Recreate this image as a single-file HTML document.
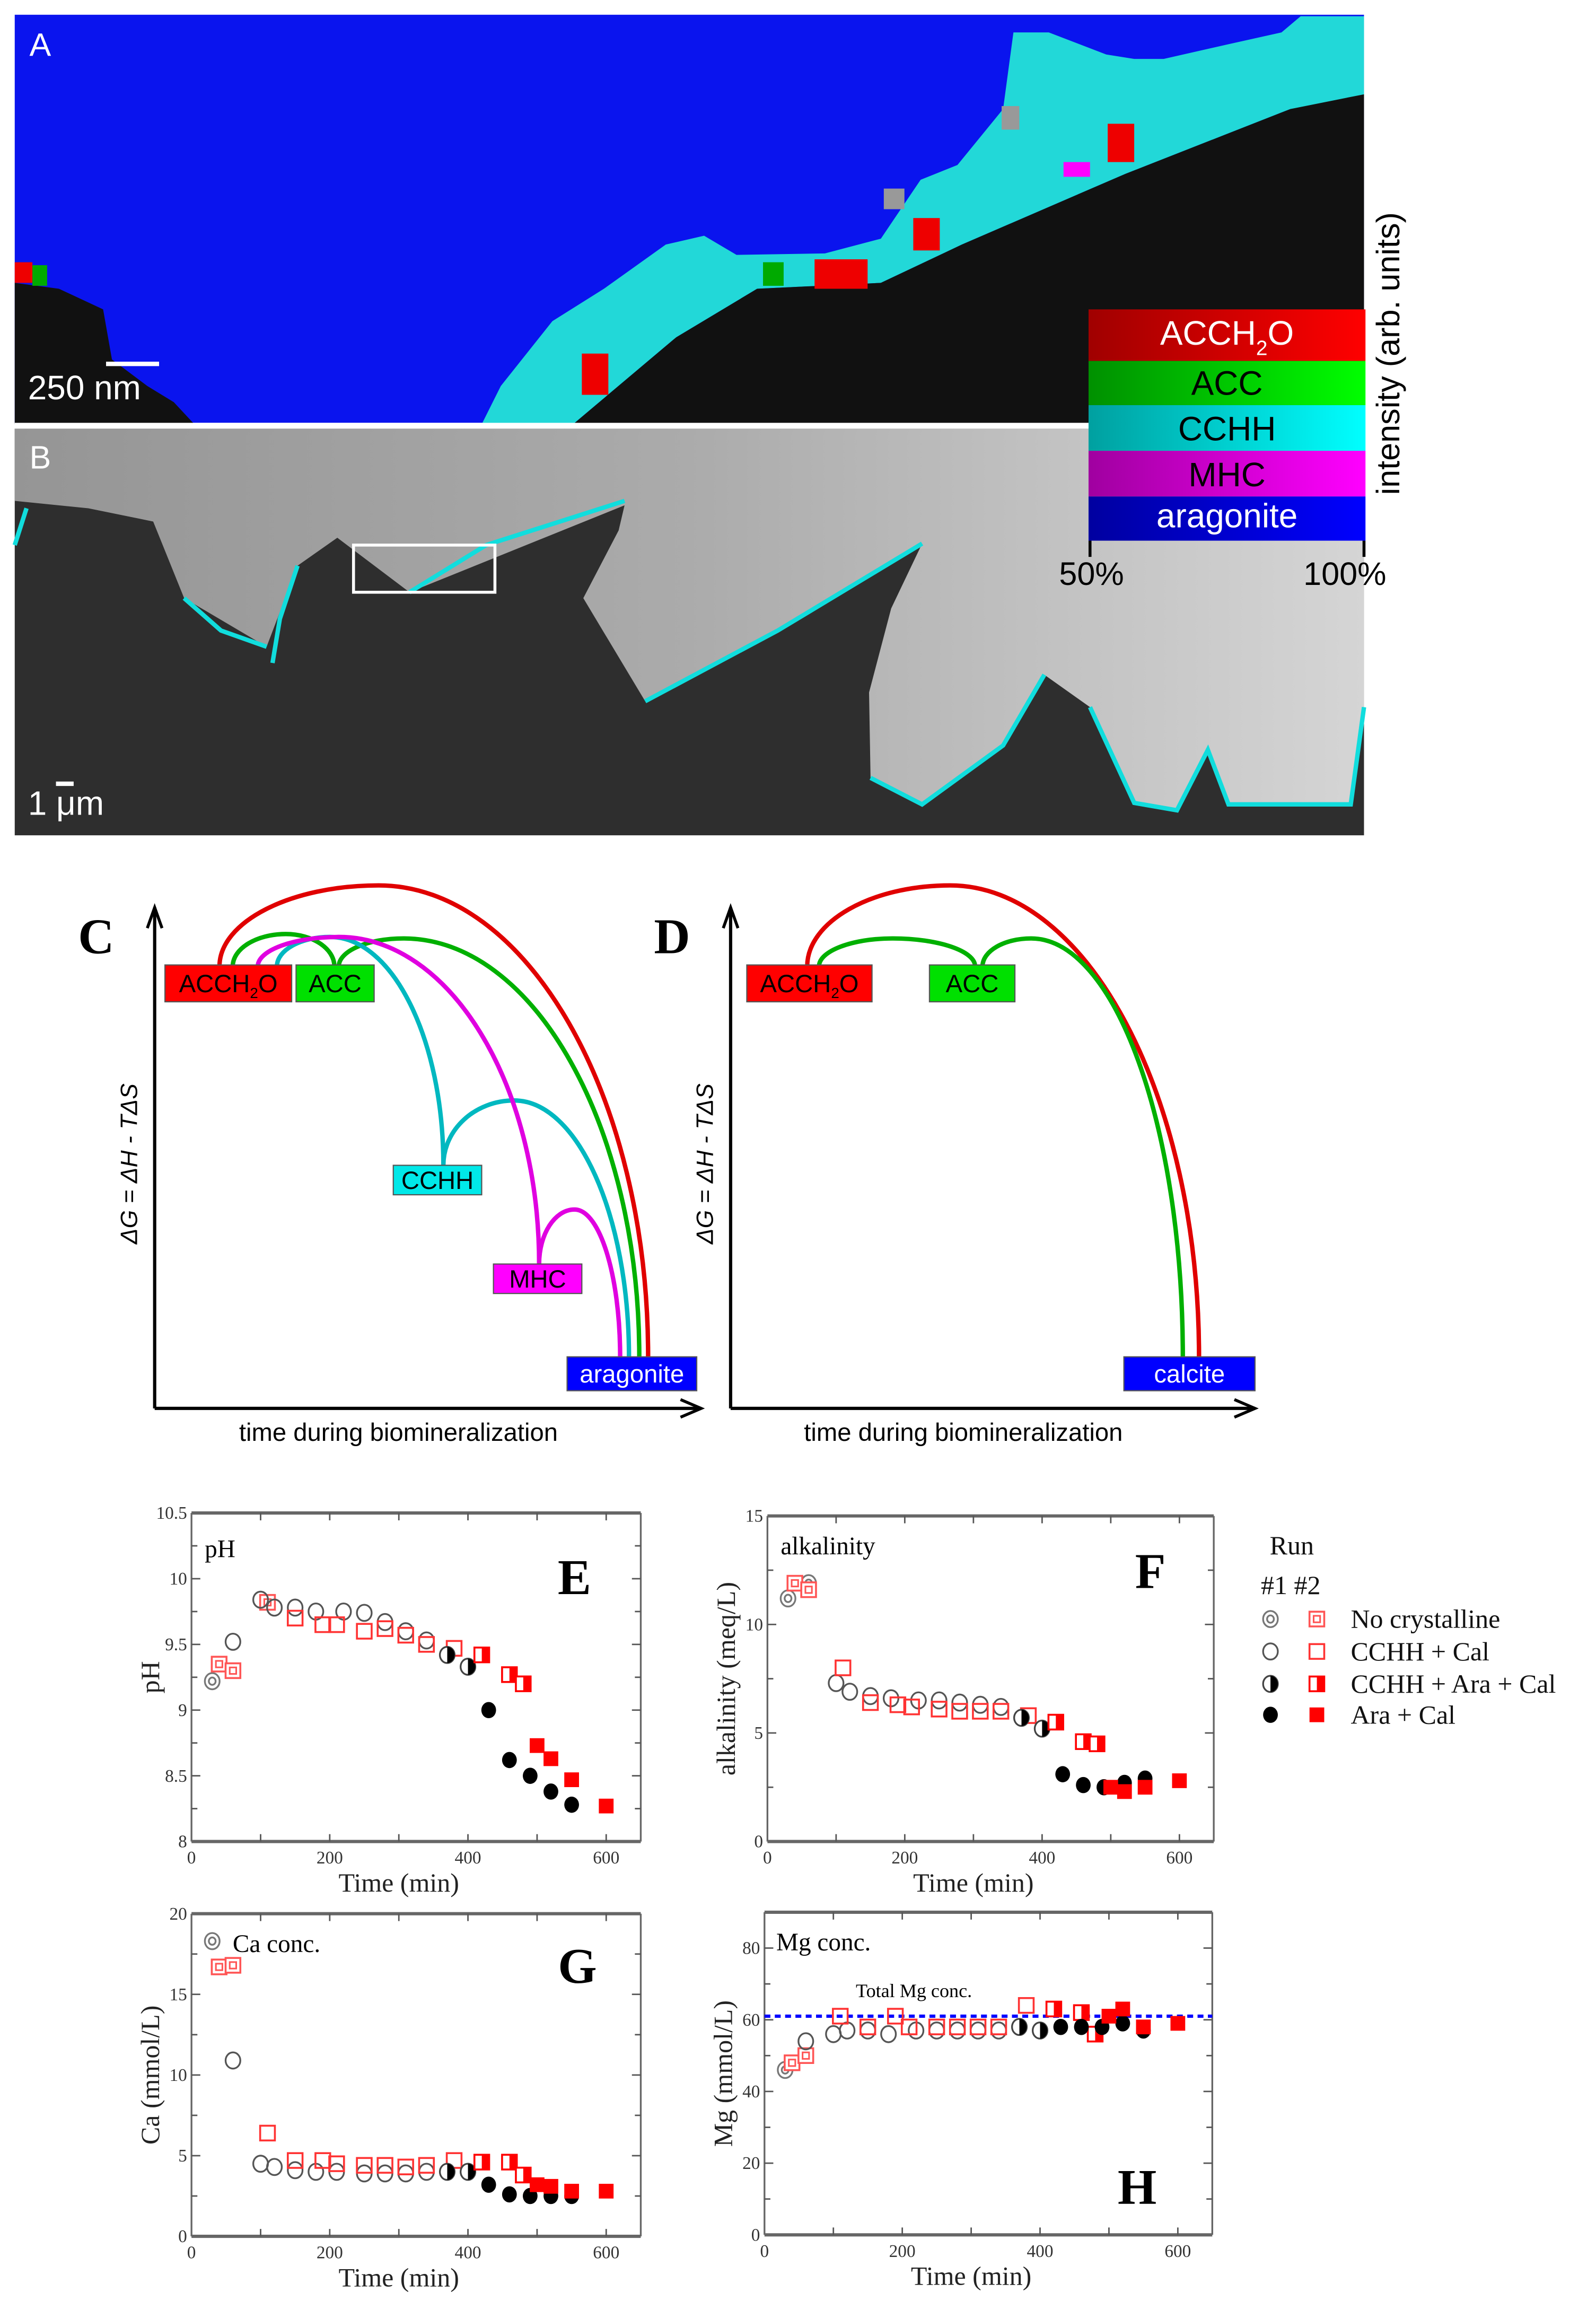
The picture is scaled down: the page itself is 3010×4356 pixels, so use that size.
<!DOCTYPE html>
<html><head><meta charset="utf-8">
<style>
html,body{margin:0;padding:0;background:#fff;}
svg{display:block;}
.sans{font-family:"Liberation Sans",Arial,sans-serif;}
.serif{font-family:"Liberation Serif","Times New Roman",serif;}
</style></head>
<body>
<svg id="fig" width="3010" height="4356" viewBox="0 0 1083.5 1568" xmlns="http://www.w3.org/2000/svg">
<defs>
<linearGradient id="gR" x1="0" x2="1"><stop offset="0" stop-color="#a00000"/><stop offset="1" stop-color="#ff0000"/></linearGradient>
<linearGradient id="gG" x1="0" x2="1"><stop offset="0" stop-color="#009000"/><stop offset="1" stop-color="#00ff00"/></linearGradient>
<linearGradient id="gC" x1="0" x2="1"><stop offset="0" stop-color="#00a0a0"/><stop offset="1" stop-color="#00ffff"/></linearGradient>
<linearGradient id="gM" x1="0" x2="1"><stop offset="0" stop-color="#a000a0"/><stop offset="1" stop-color="#ff00ff"/></linearGradient>
<linearGradient id="gB" x1="0" x2="1"><stop offset="0" stop-color="#0000a0"/><stop offset="1" stop-color="#0000ff"/></linearGradient>
<linearGradient id="gGray" x1="0" x2="1"><stop offset="0" stop-color="#959595"/><stop offset="0.5" stop-color="#ababab"/><stop offset="1" stop-color="#d5d5d5"/></linearGradient>
</defs>

<!-- Panel A -->
<g>
<rect x="10" y="10" width="916" height="277" fill="#0a14ee"/>
<polygon fill="#22d8d8" points="327,288 340,262 375,218 410,196 452,166 478,160 500,173 560,172 598,162 625,122 650,112 681,74 688,22 712,22 751,37 770,40 790,40 834,30 870,22 883,11 926,11 926,66 876,74 764,118 653,166 598,192 514,196 459,229 389,288"/>
<polygon fill="#111" points="389,288 459,229 514,196 598,192 653,166 764,118 876,74 926,64 926,288"/>
<polygon fill="#111" points="10,192 40,196 70,210 76,244 100,262 118,273 132,288 10,288"/>
<rect x="10" y="178" width="12" height="14" fill="#e00"/><rect x="22" y="180" width="10" height="14" fill="#0a0"/>
<rect x="395" y="240" width="18" height="28" fill="#e00"/><rect x="553" y="176" width="36" height="20" fill="#e00"/>
<rect x="620" y="148" width="18" height="22" fill="#e00"/><rect x="752" y="84" width="18" height="26" fill="#e00"/>
<rect x="722" y="110" width="18" height="10" fill="#f0f"/><rect x="518" y="178" width="14" height="16" fill="#0a0"/>
<rect x="600" y="128" width="14" height="14" fill="#999"/><rect x="680" y="72" width="12" height="16" fill="#999"/>
<text x="20" y="38" class="sans" font-size="22" fill="#fff">A</text>
<line x1="72" y1="247" x2="108" y2="247" stroke="#fff" stroke-width="3"/>
<text x="19" y="271" class="sans" font-size="23" fill="#fff">250 nm</text>
</g>
<rect x="10" y="287" width="916" height="4" fill="#fff"/>

<!-- Panel B -->
<g>
<rect x="10" y="291" width="916" height="276" fill="#2e2e2e"/>
<polygon fill="url(#gGray)" points="10,291 926,291 926,480 917,546 834,546 820,509 799,550 770,545 740,480 709,458 681,506 626,546 591,528 590,470 605,413 626,369 528,428 438,476 396,406 420,360 424,343 278,402 229,365 202,384 181,439 125,406 104,354 60,345 10,340"/>
<polyline fill="none" stroke="#1dd" stroke-width="3" points="10,370 18,345"/>
<polyline fill="none" stroke="#1dd" stroke-width="3" points="125,406 150,428 181,439"/>
<polyline fill="none" stroke="#1dd" stroke-width="3" points="202,384 190,420 185,450"/>
<polyline fill="none" stroke="#1dd" stroke-width="3" points="278,402 330,370 424,340"/>
<polyline fill="none" stroke="#1dd" stroke-width="3" points="438,476 528,428 626,369"/>
<polyline fill="none" stroke="#1dd" stroke-width="3" points="591,528 626,546 681,506 709,458"/>
<polyline fill="none" stroke="#1dd" stroke-width="3" points="740,480 770,545 799,550 820,509 834,546 917,546 926,480"/>
<rect x="240" y="370" width="96" height="32" fill="none" stroke="#fff" stroke-width="2"/>
<text x="20" y="318" class="sans" font-size="22" fill="#fff">B</text>
<line x1="38" y1="532" x2="50" y2="532" stroke="#fff" stroke-width="3"/>
<text x="19" y="553" class="sans" font-size="23" fill="#fff">1 μm</text>
</g>

<!-- Colorbar -->
<g>
<rect x="739" y="210" width="188" height="35" fill="url(#gR)"/>
<rect x="739" y="245" width="188" height="30" fill="url(#gG)"/>
<rect x="739" y="275" width="188" height="31" fill="url(#gC)"/>
<rect x="739" y="306" width="188" height="31" fill="url(#gM)"/>
<rect x="739" y="337" width="188" height="30" fill="url(#gB)"/>
<text x="833" y="234" text-anchor="middle" class="sans" font-size="23" fill="#fff">ACCH<tspan font-size="14" dy="7">2</tspan><tspan dy="-7">O</tspan></text>
<text x="833" y="268" text-anchor="middle" class="sans" font-size="23" fill="#000">ACC</text>
<text x="833" y="299" text-anchor="middle" class="sans" font-size="23" fill="#000">CCHH</text>
<text x="833" y="330" text-anchor="middle" class="sans" font-size="23" fill="#000">MHC</text>
<text x="833" y="358" text-anchor="middle" class="sans" font-size="23" fill="#fff">aragonite</text>
<line x1="740" y1="367" x2="740" y2="378" stroke="#000" stroke-width="2"/>
<line x1="926" y1="367" x2="926" y2="378" stroke="#000" stroke-width="2"/>
<text x="741" y="397" text-anchor="middle" class="sans" font-size="22" fill="#000">50%</text>
<text x="913" y="397" text-anchor="middle" class="sans" font-size="22" fill="#000">100%</text>
<text transform="translate(950,240) rotate(-90)" text-anchor="middle" class="sans" font-size="22" fill="#000">intensity (arb. units)</text>
</g>

<g id="cd"></g>
<g id="charts"></g>
</svg>

<script>
// ---------- Panel C/D energy diagram data ----------
const boxesC = [
 {label:"ACCH2O", x:112, y:655, w:86, h:25, fill:"#ff0000", tc:"#000"},
 {label:"ACC", x:201, y:655, w:53, h:25, fill:"#00e000", tc:"#000"},
 {label:"CCHH", x:267, y:791, w:60, h:20, fill:"#00e8e8", tc:"#000"},
 {label:"MHC", x:335, y:858, w:60, h:20, fill:"#ff00ff", tc:"#000"},
 {label:"aragonite", x:385, y:921, w:88, h:23, fill:"#0000ff", tc:"#fff"}
];
const boxesD = [
 {label:"ACCH2O", x:507, y:655, w:85, h:25, fill:"#ff0000", tc:"#000"},
 {label:"ACC", x:631, y:655, w:58, h:25, fill:"#00e000", tc:"#000"},
 {label:"calcite", x:763, y:921, w:89, h:23, fill:"#0000ff", tc:"#fff"}
];
const arcsC = [
 [149,656, 257,601, 440,921, "#e00000"],
 [230,656, 274,637, 434,921, "#00b000"],
 [158,656, 194,634, 227,656, "#00b000"],
 [188,656, 224,636, 301,791, "#00b8c0"],
 [301,791, 349,747, 427,921, "#00b8c0"],
 [175,656, 230,636, 366,858, "#e000e0"],
 [366,858, 390,821, 421,921, "#e000e0"]
];
const arcsD = [
 [548,656, 645,601, 814,921, "#e00000"],
 [556,656, 606,637, 662,656, "#00b000"],
 [667,656, 700,637, 803,921, "#00b000"]
];

// ---------- Chart data (time min, value) ----------
const E_noCryst1=[[30,9.22]];
const E_noCryst2=[[40,9.35],[60,9.3],[110,9.82]];
const E_cchhCal1=[[60,9.52],[100,9.84],[120,9.78],[150,9.78],[180,9.75],[220,9.75],[250,9.74],[280,9.67],[310,9.6],[340,9.53]];
const E_cchhCal2=[[150,9.7],[190,9.65],[210,9.65],[250,9.6],[280,9.62],[310,9.57],[340,9.5],[380,9.47]];
const E_cchhAra1=[[370,9.42],[400,9.33]];
const E_cchhAra2=[[420,9.42],[460,9.27],[480,9.2]];
const E_araCal1=[[430,9.0],[460,8.62],[490,8.5],[520,8.38],[550,8.28]];
const E_araCal2=[[500,8.73],[520,8.63],[550,8.47],[600,8.27]];

const F_noCryst1=[[30,11.2],[60,11.9]];
const F_noCryst2=[[40,11.9],[60,11.6]];
const F_cchhCal1=[[100,7.3],[120,6.9],[150,6.7],[180,6.6],[220,6.5],[250,6.5],[280,6.4],[310,6.3],[340,6.2]];
const F_cchhCal2=[[110,8.0],[150,6.4],[190,6.3],[210,6.2],[250,6.1],[280,6.0],[310,6.0],[340,6.0],[380,5.8]];
const F_cchhAra1=[[370,5.7],[400,5.2]];
const F_cchhAra2=[[420,5.5],[460,4.6],[480,4.5]];
const F_araCal1=[[430,3.1],[460,2.6],[490,2.5],[520,2.7],[550,2.9]];
const F_araCal2=[[500,2.5],[520,2.3],[550,2.5],[600,2.8]];

const G_noCryst1=[[30,18.3]];
const G_noCryst2=[[40,16.7],[60,16.8]];
const G_cchhCal1=[[60,10.9],[100,4.5],[120,4.3],[150,4.1],[180,4.0],[210,4.0],[250,3.9],[280,3.9],[310,3.9],[340,4.0]];
const G_cchhCal2=[[110,6.4],[150,4.7],[190,4.7],[210,4.5],[250,4.4],[280,4.4],[310,4.3],[340,4.4],[380,4.7]];
const G_cchhAra1=[[370,4.0],[400,4.0]];
const G_cchhAra2=[[420,4.6],[460,4.6],[480,3.8]];
const G_araCal1=[[430,3.2],[460,2.6],[490,2.5],[520,2.5],[550,2.5]];
const G_araCal2=[[500,3.2],[520,3.1],[550,2.8],[600,2.8]];

const H_noCryst1=[[30,46]];
const H_noCryst2=[[40,48],[60,50]];
const H_cchhCal1=[[60,54],[100,56],[120,57],[150,57],[180,56],[220,57],[250,57],[280,57],[310,57],[340,57]];
const H_cchhCal2=[[110,61],[150,58],[190,61],[210,58],[250,58],[280,58],[310,58],[340,58],[380,64]];
const H_cchhAra1=[[370,58],[400,57]];
const H_cchhAra2=[[420,63],[460,62],[480,56]];
const H_araCal1=[[430,58],[460,58],[490,58],[520,59],[550,57]];
const H_araCal2=[[500,61],[520,63],[550,58],[600,59]];
const H_totalMg=[61];

const xTicks=[0,200,400,600];
const E_yTicks=["8","8.5","9","9.5","10","10.5"];
const F_yTicks=["0","5","10","15"];
const G_yTicks=["0","5","10","15","20"];
const H_yTicks=["0","20","40","60","80"];
const legendLabels=["No crystalline","CCHH + Cal","CCHH + Ara + Cal","Ara + Cal"];

const NS="http://www.w3.org/2000/svg";
function mk(tag, attrs, parent){const e=document.createElementNS(NS,tag);for(const k in attrs)e.setAttribute(k,attrs[k]);if(parent)parent.appendChild(e);return e;}

const cd=document.getElementById('cd');
function arcPath(a){
 const [x0,y0,px,py,x1,y1]=a;const k=0.552;
 return `M${x0},${y0} C${x0},${y0-k*(y0-py)} ${px-k*(px-x0)},${py} ${px},${py} C${px+k*(x1-px)},${py} ${x1},${y1-k*(y1-py)} ${x1},${y1}`;
}
function drawDiagram(ax, arcs, boxes, letter, name){
 const g=mk('g',{},cd);
 
 
 arcs.forEach(a=>{
  const p=mk('path',{d:arcPath(a),fill:'none',stroke:a[6],'stroke-width':3},g);
  
  
 });
 const axs=mk('path',{d:`M${ax.x0},${ax.yb} L${ax.x0},${ax.yt} M${ax.x0},${ax.yb} L${ax.xr},${ax.yb}`,stroke:'#000','stroke-width':2.2,fill:'none'},g);
 
 
 mk('path',{d:`M${ax.x0-5},${ax.yt+14} L${ax.x0},${ax.yt} L${ax.x0+5},${ax.yt+14}`,stroke:'#000','stroke-width':2,fill:'none'},g);
 mk('path',{d:`M${ax.xr-14},${ax.yb-6} L${ax.xr},${ax.yb} L${ax.xr-14},${ax.yb+6}`,stroke:'#000','stroke-width':2,fill:'none'},g);
 boxes.forEach(b=>{
  const r=mk('rect',{x:b.x,y:b.y,width:b.w,height:b.h,fill:b.fill,stroke:'#555','stroke-width':0.8},g);
  
  
  const t=mk('text',{x:b.x+b.w/2,y:b.y+b.h/2+6,'text-anchor':'middle','class':'sans','font-size':17,fill:b.tc},g);
  if(b.label==="ACCH2O"){t.innerHTML='ACCH<tspan font-size="10" dy="4">2</tspan><tspan dy="-4">O</tspan>';}
  else t.textContent=b.label;
  
  
 });
 const L=mk('text',{x:ax.x0-52,y:647,'class':'serif','font-size':34,'font-weight':'bold',fill:'#000'},g);
 L.textContent=letter;
 
 
 const yl=mk('text',{transform:`translate(${ax.x0-12},${790}) rotate(-90)`,'text-anchor':'middle','class':'sans','font-size':16,'font-style':'italic',fill:'#000'},g);
 yl.textContent='ΔG = ΔH - TΔS';
 
 
 const xl=mk('text',{x:(ax.x0+ax.xr)/2-20,y:978,'text-anchor':'middle','class':'sans','font-size':17,fill:'#000'},g);
 xl.textContent='time during biomineralization';
 
 
}
drawDiagram({x0:105,yt:616,yb:956,xr:476},arcsC,boxesC,'C','panel-c-diagram');
drawDiagram({x0:496,yt:616,yb:956,xr:852},arcsD,boxesD,'D','panel-d-diagram');

const charts=document.getElementById('charts');
function marker(g,type,cx,cy){
 const r=5, h=5;
 let e;
 if(type==='noCryst1'){e=mk('g',{},g);mk('ellipse',{cx,cy,rx:r,ry:r+0.5,fill:'#fff',stroke:'#777','stroke-width':1.2},e);mk('ellipse',{cx,cy,rx:2.3,ry:2.5,fill:'none',stroke:'#777','stroke-width':1.2},e);}
 else if(type==='noCryst2'){e=mk('g',{},g);mk('rect',{x:cx-h,y:cy-h,width:2*h,height:2*h,fill:'#fff',stroke:'#f55','stroke-width':1.3},e);mk('rect',{x:cx-2.2,y:cy-2.2,width:4.4,height:4.4,fill:'none',stroke:'#f55','stroke-width':1.1},e);}
 else if(type==='cchhCal1'){e=mk('ellipse',{cx,cy,rx:r,ry:r+0.5,fill:'none',stroke:'#555','stroke-width':1.2},g);}
 else if(type==='cchhCal2'){e=mk('rect',{x:cx-h,y:cy-h,width:2*h,height:2*h,fill:'none',stroke:'#f33','stroke-width':1.3},g);}
 else if(type==='cchhAra1'){e=mk('g',{},g);mk('ellipse',{cx,cy,rx:r,ry:r+0.5,fill:'#fff',stroke:'#444','stroke-width':1.2},e);mk('path',{d:`M${cx},${cy-r-0.5} A${r},${r+0.5} 0 0 1 ${cx},${cy+r+0.5} Z`,fill:'#000'},e);}
 else if(type==='cchhAra2'){e=mk('g',{},g);mk('rect',{x:cx-h,y:cy-h,width:2*h,height:2*h,fill:'#fff',stroke:'#f00','stroke-width':1.3},e);mk('rect',{x:cx,y:cy-h,width:h,height:2*h,fill:'#f00'},e);}
 else if(type==='araCal1'){e=mk('ellipse',{cx,cy,rx:r,ry:r+0.5,fill:'#000'},g);}
 else {e=mk('rect',{x:cx-h,y:cy-h,width:2*h,height:2*h,fill:'#f00'},g);}
 return e;
}
function drawChart(cfg){
 const g=mk('g',{},charts);
 
 
 const {L,R,T,B,ymin,ymax}=cfg;
 const X=v=>L+(v-0)/(650-0)*(R-L);
 const Y=v=>B-(v-ymin)/(ymax-ymin)*(B-T);
 mk('line',{x1:L,y1:T,x2:R,y2:T,stroke:'#666','stroke-width':2.2},g);
 mk('line',{x1:L,y1:B,x2:R,y2:B,stroke:'#666','stroke-width':2.2},g);
 mk('line',{x1:L,y1:T,x2:L,y2:B,stroke:'#666','stroke-width':1.2},g);
 mk('line',{x1:R,y1:T,x2:R,y2:B,stroke:'#666','stroke-width':1.2},g);
 for(let v=100;v<650;v+=100){
  mk('line',{x1:X(v),y1:B,x2:X(v),y2:B-5,stroke:'#555','stroke-width':1},g);
  mk('line',{x1:X(v),y1:T,x2:X(v),y2:T+5,stroke:'#555','stroke-width':1},g);
 }
 xTicks.forEach(v=>{
  const t=mk('text',{x:X(v),y:B+15,'text-anchor':'middle','class':'serif','font-size':12,fill:'#333'},g);
  t.textContent=v;
  
  
 });
 const step=(ymax-ymin)/cfg.minorN;
 for(let i=1;i<cfg.minorN;i++){
  const yy=Y(ymin+i*step);
  const major=(i%cfg.minorPer===0);
  mk('line',{x1:L,y1:yy,x2:L+(major?6:4),y2:yy,stroke:'#555','stroke-width':1},g);
  mk('line',{x1:R,y1:yy,x2:R-(major?6:4),y2:yy,stroke:'#555','stroke-width':1},g);
 }
 cfg.yTicks.forEach(s=>{
  const t=mk('text',{x:L-3,y:Y(parseFloat(s))+4,'text-anchor':'end','class':'serif','font-size':12,fill:'#333'},g);
  t.textContent=s;
  
  
 });
 if(cfg.hline!==undefined){
  const hl=mk('line',{x1:L,y1:Y(cfg.hline),x2:R,y2:Y(cfg.hline),stroke:'#0000ff','stroke-width':2.2,'stroke-dasharray':'4,3'},g);
  
  
  const ht=mk('text',{x:L+62,y:Y(cfg.hline)-13,'class':'serif','font-size':13,fill:'#000'},g);
  ht.textContent='Total Mg conc.';
  
  
 }
 cfg.series.forEach(([type,data])=>{
  data.forEach(([x,y])=>{
   const m=marker(g,type,X(x),Y(y));
   
   
  });
 });
 const tl=mk('text',{x:L+cfg.titleDx,y:T+cfg.titleDy,'class':'serif','font-size':17,fill:'#000'},g);
 tl.textContent=cfg.title;
 
 
 const pl=mk('text',{x:cfg.letterX,y:cfg.letterY,'text-anchor':'middle','class':'serif','font-size':34,'font-weight':'bold',fill:'#000'},g);
 pl.textContent=cfg.letter;
 
 
 const xt=mk('text',{x:X(300),y:B+34,'text-anchor':'middle','class':'serif','font-size':18,fill:'#222'},g);
 xt.textContent='Time (min)';
 
 
 const yt=mk('text',{transform:`translate(${L-22},${(T+B)/2}) rotate(-90)`,'text-anchor':'middle','class':'serif','font-size':18,fill:'#222'},g);
 yt.textContent=cfg.ytitle;
 
 
}
function S(p){return [['noCryst1',p.noCryst1],['noCryst2',p.noCryst2],['cchhCal1',p.cchhCal1],['cchhCal2',p.cchhCal2],['cchhAra1',p.cchhAra1],['cchhAra2',p.cchhAra2],['araCal1',p.araCal1],['araCal2',p.araCal2]];}
drawChart({name:'chart-e-ph',L:130,R:435,T:1027,B:1250,ymin:8,ymax:10.5,minorN:10,minorPer:2,yTicks:E_yTicks,title:'pH',titleDx:9,titleDy:30,letter:'E',letterX:390,letterY:1082,ytitle:'pH',
 series:S({noCryst1:E_noCryst1,noCryst2:E_noCryst2,cchhCal1:E_cchhCal1,cchhCal2:E_cchhCal2,cchhAra1:E_cchhAra1,cchhAra2:E_cchhAra2,araCal1:E_araCal1,araCal2:E_araCal2})});
drawChart({name:'chart-f-alkalinity',L:521,R:824,T:1029,B:1250,ymin:0,ymax:15,minorN:6,minorPer:2,yTicks:F_yTicks,title:'alkalinity',titleDx:9,titleDy:26,letter:'F',letterX:781,letterY:1078,ytitle:'alkalinity (meq/L)',
 series:S({noCryst1:F_noCryst1,noCryst2:F_noCryst2,cchhCal1:F_cchhCal1,cchhCal2:F_cchhCal2,cchhAra1:F_cchhAra1,cchhAra2:F_cchhAra2,araCal1:F_araCal1,araCal2:F_araCal2})});
drawChart({name:'chart-g-ca',L:130,R:435,T:1299,B:1518,ymin:0,ymax:20,minorN:8,minorPer:2,yTicks:G_yTicks,title:'Ca conc.',titleDx:28,titleDy:26,letter:'G',letterX:392,letterY:1346,ytitle:'Ca (mmol/L)',
 series:S({noCryst1:G_noCryst1,noCryst2:G_noCryst2,cchhCal1:G_cchhCal1,cchhCal2:G_cchhCal2,cchhAra1:G_cchhAra1,cchhAra2:G_cchhAra2,araCal1:G_araCal1,araCal2:G_araCal2})});
drawChart({name:'chart-h-mg',L:519,R:823,T:1298,B:1517,ymin:0,ymax:90,minorN:9,minorPer:2,yTicks:H_yTicks,title:'Mg conc.',titleDx:8,titleDy:26,letter:'H',letterX:772,letterY:1496,ytitle:'Mg (mmol/L)',hline:H_totalMg[0],
 series:S({noCryst1:H_noCryst1,noCryst2:H_noCryst2,cchhCal1:H_cchhCal1,cchhCal2:H_cchhCal2,cchhAra1:H_cchhAra1,cchhAra2:H_cchhAra2,araCal1:H_araCal1,araCal2:H_araCal2})});

const lg=mk('g',{},charts);


const lt=mk('text',{x:862,y:1055,'class':'serif','font-size':18,fill:'#111'},lg);lt.textContent='Run';
const lr=mk('text',{x:856,y:1082,'class':'serif','font-size':18,fill:'#111'},lg);lr.textContent='#1 #2';
const types1=['noCryst1','cchhCal1','cchhAra1','araCal1'];
const types2=['noCryst2','cchhCal2','cchhAra2','araCal2'];
const rowsY=[1099,1121,1143,1164];
legendLabels.forEach((lab,i)=>{
 const m1=marker(lg,types1[i],862.5,rowsY[i]);
 
 
 const m2=marker(lg,types2[i],894,rowsY[i]);
 
 
 const t=mk('text',{x:917,y:rowsY[i]+6,'class':'serif','font-size':18,fill:'#111'},lg);
 t.textContent=lab;
 
 
});
</script>
</body></html>
